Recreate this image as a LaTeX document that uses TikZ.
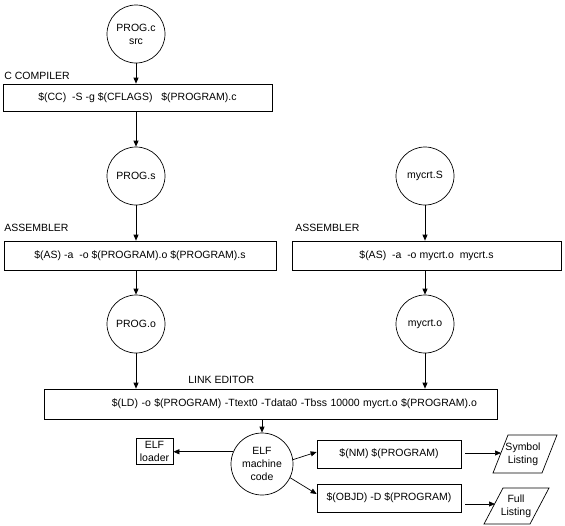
\documentclass[tikz,border=0pt]{standalone}
\usepackage{fontspec}
\setmainfont{Liberation Sans}
\usetikzlibrary{arrows.meta}

\begin{document}
\begin{tikzpicture}[
  x=1pt, y=-1pt, line width=0.7pt,
  font=\fontsize{10.5}{13}\selectfont, >={Triangle[length=6pt,width=5pt]},
  file/.style={draw, circle, minimum size=58pt, inner sep=0pt, align=center},
  cmd/.style={draw, rectangle, inner sep=0pt, align=center},
  tool/.style={anchor=west, inner sep=0pt},
  listing/.style={inner sep=0pt, align=center}]

\useasboundingbox (0,0) rectangle (565,525);

% ================================================================ compile
\node[file] (progc) at (136,34) {PROG.c\\src};
\node[tool] (lcc) at (4,76) {C COMPILER};
\node[cmd, minimum width=269pt, minimum height=27pt] (cc) at (137.5,97.5)
  {\$(CC)~~-S -g \$(CFLAGS)~~~\$(PROGRAM).c};
\node[file] (progs) at (136,176) {PROG.s};

% ================================================================ assemble
\node[tool] (las) at (4,228) {ASSEMBLER};
\node[cmd, minimum width=272pt, minimum height=29pt] (as) at (140,255.5)
  {\$(AS) -a~~-o \$(PROGRAM).o \$(PROGRAM).s};
\node[file] (progo) at (136,324) {PROG.o};

\node[file] (mycrts) at (425,176) {mycrt.S};
\node[tool] (lasr) at (295,228) {ASSEMBLER};
\node[cmd, minimum width=269pt, minimum height=29pt] (asr) at (426.5,255.5)
  {\$(AS)~~-a~~-o mycrt.o~~mycrt.s};
\node[file] (mycrto) at (425,324) {mycrt.o};

% ================================================================ link
\node[tool] (lld) at (188,380) {LINK EDITOR};
\node[cmd, minimum height=30pt, inner xsep=20pt, text width=413pt, align=right] (ld) at (270.5,404)
  {\$(LD) -o \$(PROGRAM) -Ttext0 -Tdata0 -Tbss 10000 mycrt.o \$(PROGRAM).o};

% ================================================================ outputs
\node[file, minimum size=62pt] (elf) at (262,464) {ELF\\machine\\code};
\node[cmd, minimum width=37pt, minimum height=26pt] (loader) at (154.5,451) {ELF\\loader};
\node[cmd, minimum width=144pt, minimum height=28pt] (nm) at (389,454) {\$(NM) \$(PROGRAM)};
\node[cmd, minimum width=144pt, minimum height=28pt] (objd) at (389,498) {\$(OBJD) -D \$(PROGRAM)};

% the two listings (slanted boxes)
\node[listing] (sym) at (523,454) {Symbol\\Listing};
\draw (493,473) -- (542,473) -- (557,435) -- (508,435) -- cycle;
\node[listing] (full) at (516,506) {Full\\Listing};
\draw (484,524) -- (530,524) -- (549,488) -- (503,488) -- cycle;
\coordinate (symin) at (501,453);
\coordinate (fullin) at (495,504);
\coordinate (nmout) at ([xshift=4pt]nm.east);
\coordinate (objdout) at ([xshift=4pt]objd.east);

% connectors
\draw[->] (progc) -- (progc |- cc.north);
\draw[->] (cc.south -| progs) -- (progs);
\draw[->] (progs) -- (progs |- as.north);
\draw[->] (as.south -| progo) -- (progo);
\draw[->] (mycrts) -- (mycrts |- asr.north);
\draw[->] (asr.south -| mycrto) -- (mycrto);
\draw[->] (progo) -- (progo |- ld.north);
\draw[->] (mycrto) -- (mycrto |- ld.north);
\draw[->] (ld.south -| elf) -- (elf);
\draw[->] (elf.157) -- (elf.157 -| loader.east);
\draw[->] (elf.8) -- ([yshift=2pt]nm.west);
\draw[->] (elf.-26) -- ([yshift=4pt]objd.west);
\draw[->] (nmout |- symin) -- (symin);
\draw[->] (objdout |- fullin) -- (fullin);

\end{tikzpicture}
\end{document}
